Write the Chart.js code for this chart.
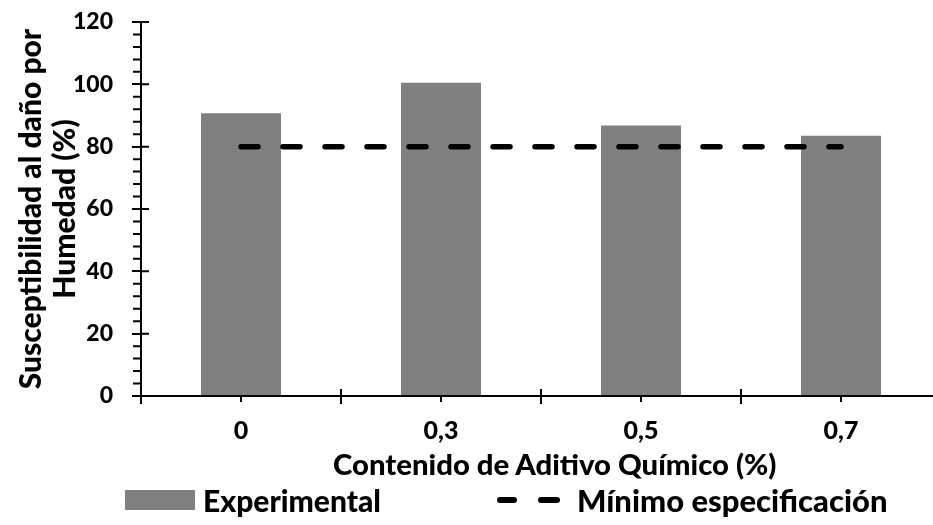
<!DOCTYPE html>
<html>
<head>
<meta charset="utf-8">
<script src="https://cdn.jsdelivr.net/npm/chart.js@4.4.1/dist/chart.umd.min.js"></script>
<style>
  html, body { margin: 0; padding: 0; background: #fff; overflow: hidden; }
  #wrap { position: relative; width: 960px; height: 525px; font-family: Lato, sans-serif; font-weight: 900; color: #000; }
  #chart { position: absolute; left: 0; top: 0; }
  .lg { position: absolute; white-space: nowrap; }
  .lg-box { left: 125px; top: 490px; width: 70px; height: 20px; background: #808080; }
  .lg-dash { height: 6px; top: 497px; border-radius: 3px; background: #000; }
  .lg-text { font-size: 31px; line-height: 32px; top: 484px; }
  .x-title { left: 333px; top: 447px; font-size: 29.3px; line-height: 34px; }
</style>
</head>
<body>
<div id="wrap">
  <canvas id="chart" width="960" height="525"></canvas>
  <div class="lg x-title">Contenido de Aditivo Químico (%)</div>
  <div class="lg lg-box"></div>
  <div class="lg lg-text" style="left:203px; font-size:30px">Experimental</div>
  <div class="lg lg-dash" style="left:497px; width:20px"></div>
  <div class="lg lg-dash" style="left:538px; width:22px"></div>
  <div class="lg lg-text" style="left:577px">Mínimo especificación</div>
</div>
<script>
const categories   = ['0', '0,3', '0,5', '0,7']
const experimental = [90.7, 100.5, 86.8, 83.5]
const minimo       = [80, 80, 80, 80]
const yMax  = 120
const yStep = 20
const yMinorStep = 4

const FONT = 'Lato'
const W = 900

// extra tick marks: minor y ticks, inner half of major ticks, x center ticks
const axisMarks = {
  id: 'axisMarks',
  afterDatasetsDraw(chart) {
    const { ctx, chartArea: a, scales: { x, y } } = chart
    ctx.save()
    ctx.strokeStyle = '#000'
    ctx.lineWidth = 2
    ctx.beginPath()
    for (let v = 0; v <= yMax; v += yMinorStep) {
      const py = y.getPixelForValue(v)
      if (v % yStep === 0) {
        ctx.moveTo(a.left, py); ctx.lineTo(a.left + 8, py)
      } else {
        ctx.moveTo(a.left - 8, py); ctx.lineTo(a.left, py)
      }
    }
    categories.forEach((c, i) => {
      const px = x.getPixelForValue(i)
      ctx.moveTo(px, a.bottom); ctx.lineTo(px, a.bottom + 6)
    })
    for (let i = 0; i <= categories.length; i++) {
      const px = x.getPixelForValue(i - 0.5)
      ctx.moveTo(px, a.bottom - 7); ctx.lineTo(px, a.bottom)
    }
    ctx.stroke()
    ctx.restore()
  }
}

new Chart(document.getElementById('chart').getContext('2d'), {
  data: {
    labels: categories,
    datasets: [
      {
        type: 'line',
        label: 'Mínimo especificación',
        data: minimo,
        borderColor: '#000',
        borderWidth: 5.5,
        borderDash: [17, 25],
        borderCapStyle: 'round',
        pointRadius: 0,
        fill: false,
        order: 0
      },
      {
        type: 'bar',
        label: 'Experimental',
        data: experimental,
        backgroundColor: '#808080',
        categoryPercentage: 1,
        barPercentage: 0.4,
        order: 1
      }
    ]
  },
  options: {
    responsive: false,
    animation: false,
    layout: { padding: { top: 22, right: 19, bottom: 0, left: 0 } },
    plugins: {
      legend: { display: false },
      tooltip: { enabled: false }
    },
    scales: {
      x: {
        afterFit: s => { s.height = 129 },
        grid: { offset: true, drawOnChartArea: false, color: '#000', lineWidth: 2, tickLength: 8 },
        border: { color: '#000', width: 2 },
        ticks: { color: '#000', padding: 12, font: { family: FONT, size: 25, weight: W } }
      },
      y: {
        min: 0,
        max: yMax,
        afterFit: s => { s.width = 141; s.paddingTop = 0; s.paddingBottom = 0 },
        grid: { drawOnChartArea: false, color: '#000', lineWidth: 2, tickLength: 9 },
        border: { color: '#000', width: 2 },
        ticks: { stepSize: yStep, color: '#000', padding: 19, font: { family: FONT, size: 23, weight: W } },
        title: {
          display: true,
          text: ['Susceptibilidad al daño por', 'Humedad (%)'],
          color: '#000',
          font: { family: FONT, size: 30, weight: W, lineHeight: 1.15 },
          padding: { top: 14, bottom: 0 }
        }
      }
    }
  },
  plugins: [axisMarks]
})
</script>
</body>
</html>
